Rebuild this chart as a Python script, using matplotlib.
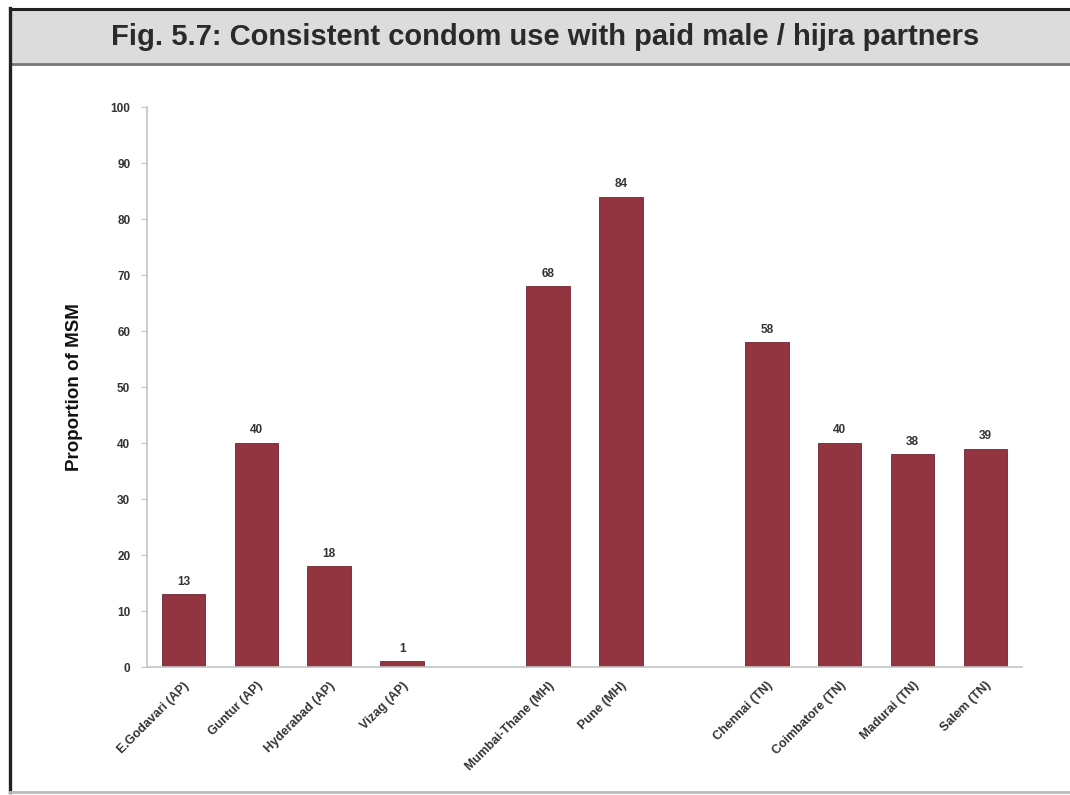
import matplotlib.pyplot as plt
from matplotlib.patches import Rectangle
from matplotlib.lines import Line2D

sites = ['E.Godavari (AP)', 'Guntur (AP)', 'Hyderabad (AP)', 'Vizag (AP)',
         'Mumbai-Thane (MH)', 'Pune (MH)',
         'Chennai (TN)', 'Coimbatore (TN)', 'Madurai (TN)', 'Salem (TN)']
values = [13, 40, 18, 1, 68, 84, 58, 40, 38, 39]
# one empty slot between the state groups
slots = [0, 1, 2, 3, 5, 6, 8, 9, 10, 11]
yticks = list(range(0, 101, 10))

bar_color = '#923541'
axis_grey = '#c4c4c4'
label_font = 'Liberation Sans'

fig = plt.figure(figsize=(10.7, 7.95), dpi=100)
fig.set_facecolor('white')

# header band
fig.patches.append(Rectangle((0.009, 0.9195), 0.991, 0.0695, transform=fig.transFigure,
                             facecolor='#dcdcdc', edgecolor='none', zorder=0))
fig.lines.append(Line2D([0.009, 1.0], [0.9888, 0.9888], transform=fig.transFigure,
                        color='#222222', lw=2.2))
fig.lines.append(Line2D([0.009, 1.0], [0.9195, 0.9195], transform=fig.transFigure,
                        color='#777777', lw=2.0))
fig.lines.append(Line2D([0.0095, 0.0095], [0.004, 0.99], transform=fig.transFigure,
                        color='#222222', lw=2.4))
fig.lines.append(Line2D([0.009, 1.0], [0.004, 0.004], transform=fig.transFigure,
                        color='#bbbbbb', lw=2.0))
fig.text(0.509, 0.953, 'Fig. 5.7: Consistent condom use with paid male / hijra partners',
         ha='center', va='center', fontsize=21, fontweight='bold', color='#2a2a2a',
         family=label_font)

ax = fig.add_axes([0.1374, 0.161, 0.8176, 0.704])
bars = ax.bar(slots, values, width=0.6, color=bar_color, edgecolor='#6e2630', linewidth=0.6)

for b, v in zip(bars, values):
    ax.text(b.get_x() + b.get_width() / 2, v + 1.2, str(v), ha='center', va='bottom',
            fontsize=8.5, fontweight='bold', color='#333333', family=label_font)

ax.set_xlim(-0.5, 11.5)
ax.set_ylim(0, 100)
ax.set_yticks(yticks)
ax.set_yticklabels([str(t) for t in yticks], fontsize=8.5, fontweight='bold',
                   color='#333333', family=label_font)
ax.set_xticks(slots)
ax.set_xticklabels(sites, rotation=45, ha='right', rotation_mode='anchor',
                   fontsize=9, fontweight='bold', color='#333333', family=label_font)
ax.tick_params(axis='y', length=4, color=axis_grey, pad=8)
ax.tick_params(axis='x', length=0, pad=9)

for side in ['top', 'right']:
    ax.spines[side].set_visible(False)
for side in ['left', 'bottom']:
    ax.spines[side].set_color(axis_grey)
    ax.spines[side].set_linewidth(1.2)

ax.set_ylabel('Proportion of MSM', fontsize=13.5, fontweight='bold', color='#111111',
              family=label_font, labelpad=20)

fig.savefig('out.png', dpi=100)
